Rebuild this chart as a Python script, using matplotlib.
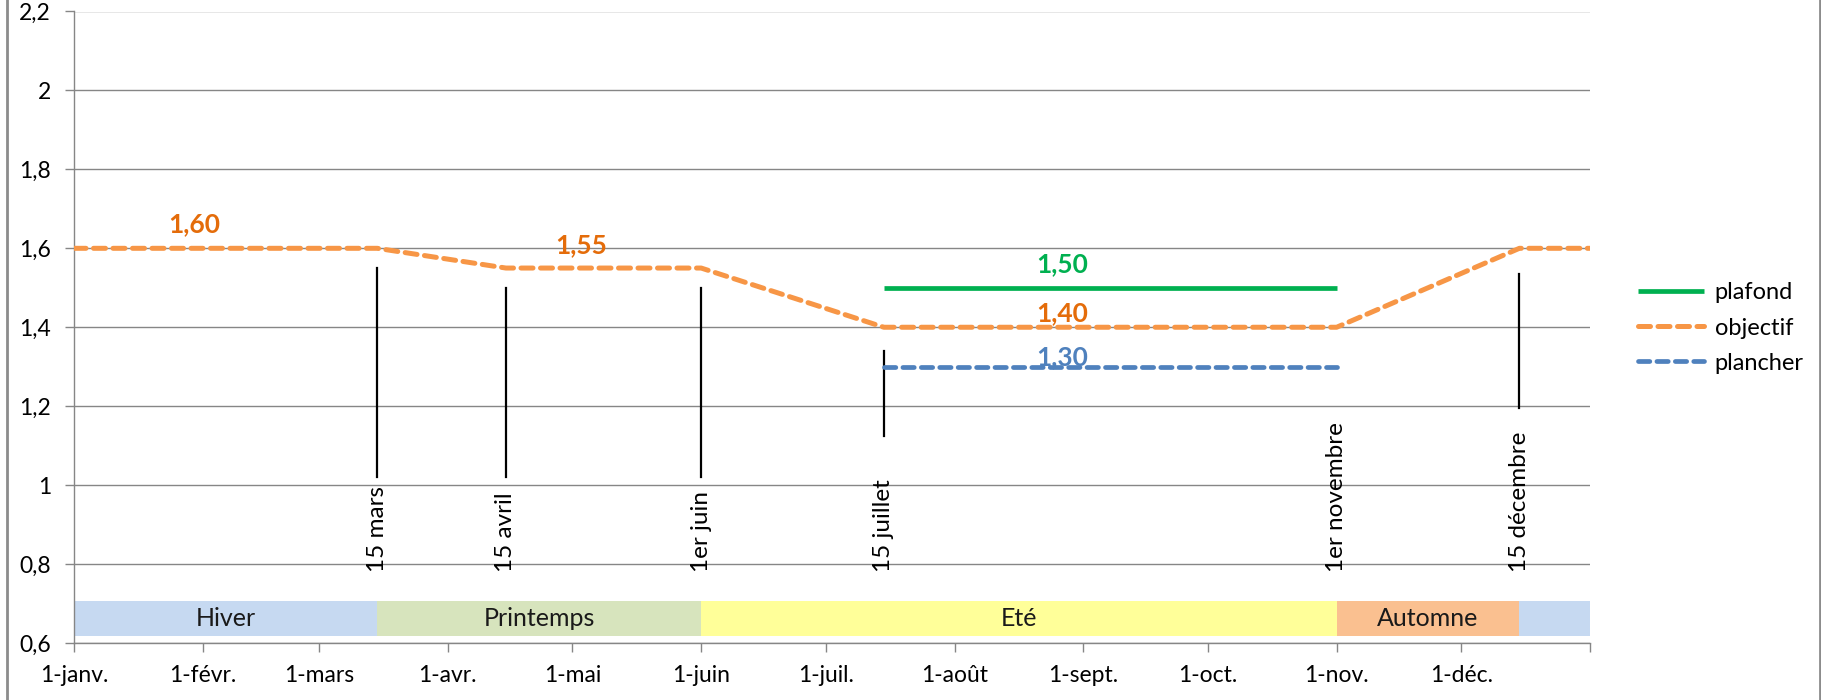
"""Objectif / plafond / plancher over the year, with seasons band."""
import matplotlib
matplotlib.use("Agg")
import matplotlib.pyplot as plt
import pandas as pd
from matplotlib.lines import Line2D

plt.rcParams["font.family"] = ["Lato", "DejaVu Sans"]

YEAR = 2013


def d(m, j, y=YEAR):
    return pd.Timestamp(y, m, j)


# --- data ---
obj_dates = [d(1, 1), d(3, 15), d(4, 15), d(6, 1), d(7, 15), d(11, 1), d(12, 15), d(1, 1, YEAR + 1)]
obj_values = [1.60, 1.60, 1.55, 1.55, 1.40, 1.40, 1.60, 1.60]
plafond_dates = [d(7, 15), d(11, 1)]
plafond_values = [1.50, 1.50]
plancher_dates = [d(7, 15), d(11, 1)]
plancher_values = [1.30, 1.30]

season_names = ["Hiver", "Printemps", "Eté", "Automne", ""]
season_starts = [d(1, 1), d(3, 15), d(6, 1), d(11, 1), d(12, 15)]
season_ends = [d(3, 15), d(6, 1), d(11, 1), d(12, 15), d(1, 1, YEAR + 1)]
season_colors = ["#C6D9F1", "#D7E4BD", "#FFFF99", "#FAC090", "#C6D9F1"]
season_low, season_high = 0.617, 0.707

marker_dates = [d(3, 15), d(4, 15), d(6, 1), d(7, 15), d(11, 1), d(12, 15)]
marker_labels = ["15 mars", "15 avril", "1er juin", "15 juillet", "1er novembre", "15 décembre"]
marker_low = [1.02, 1.02, 1.02, 1.125, None, 1.195]
marker_high = [1.55, 1.50, 1.50, 1.34, None, 1.535]

month_ticks = [d(m, 1) for m in range(1, 13)] + [d(1, 1, YEAR + 1)]
month_labels = ["1-janv.", "1-févr.", "1-mars", "1-avr.", "1-mai", "1-juin", "1-juil.",
                "1-août", "1-sept.", "1-oct.", "1-nov.", "1-déc.", ""]
y_ticks = [0.6, 0.8, 1.0, 1.2, 1.4, 1.6, 1.8, 2.0, 2.2]

# value labels: (x date, y, text, colour)
value_labels = [
    (d(1, 30), 1.66, "1,60", "#E46C0A"),
    (d(5, 3), 1.607, "1,55", "#E46C0A"),
    (d(8, 27), 1.56, "1,50", "#00B050"),
    (d(8, 27), 1.437, "1,40", "#E46C0A"),
    (d(8, 27), 1.324, "1,30", "#4F81BD"),
]

GRID = "#868686"

fig = plt.figure(figsize=(18.21, 7.0), dpi=100)
ax = fig.add_axes([74 / 1821, 1 - 643 / 700, (1590 - 74) / 1821, (643 - 11.5) / 700])

# seasons band
for name, s, e, c in zip(season_names, season_starts, season_ends, season_colors):
    ax.bar(s, season_high - season_low, width=(e - s).days, bottom=season_low,
           align="edge", color=c, edgecolor="none", zorder=2)
    if name:
        mid = s + (e - s) / 2
        ax.text(mid, (season_low + season_high) / 2, name, ha="center", va="center",
                fontsize=18, color="#1a1a1a", zorder=3)

# series
ax.plot(plafond_dates, plafond_values, color="#00B050", lw=3.4, label="plafond",
        solid_capstyle="butt", zorder=4)
ax.plot(obj_dates, obj_values, color="#F79646", lw=3.6, label="objectif",
        linestyle=(0, (2.4, 1.5)), dash_capstyle="round", zorder=4)
ax.plot(plancher_dates, plancher_values, color="#4F81BD", lw=3.4, label="plancher",
        linestyle=(0, (2.4, 1.5)), dash_capstyle="round", zorder=4)

# date markers
for dt, lab, lo, hi in zip(marker_dates, marker_labels, marker_low, marker_high):
    if lo is not None:
        ax.plot([dt, dt], [lo, hi], color="black", lw=1.6, zorder=3)
    ax.text(dt, 0.78, lab, rotation=90, ha="center", va="bottom", fontsize=17.5,
            color="black", zorder=3)

for dt, yv, txt, col in value_labels:
    ax.text(dt, yv, txt, ha="center", va="center", fontsize=19, fontweight="bold",
            color=col, zorder=5)

ax.set_xlim(month_ticks[0], month_ticks[-1])
ax.set_ylim(0.6, 2.2)
ax.set_xticks(month_ticks)
ax.set_xticklabels(month_labels, fontsize=16.5)
ax.set_yticks(y_ticks)
ax.set_yticklabels([f"{v:g}".replace(".", ",") for v in y_ticks], fontsize=16.5)
ax.tick_params(axis="both", direction="out", color=GRID, length=6.5, width=1, pad=9)
ax.tick_params(axis="y", pad=10)
ax.yaxis.grid(True, color=GRID, lw=1)
ax.set_axisbelow(True)
for side in ("top", "right"):
    ax.spines[side].set_visible(False)
for side in ("left", "bottom"):
    ax.spines[side].set_color(GRID)
    ax.spines[side].set_linewidth(1)

ax.legend(loc="center left", bbox_to_anchor=(1626 / 1821, 1 - 328 / 700),
          bbox_transform=fig.transFigure, frameon=False, fontsize=17,
          handlelength=2.8, handletextpad=0.45, labelspacing=0.6, borderpad=0)

# outer frame lines
for xf in (7 / 1821, 1819.5 / 1821):
    fig.add_artist(Line2D([xf, xf], [0, 1], transform=fig.transFigure, color="#8c8c8c", lw=2))

fig.savefig("out.png", dpi=100)
